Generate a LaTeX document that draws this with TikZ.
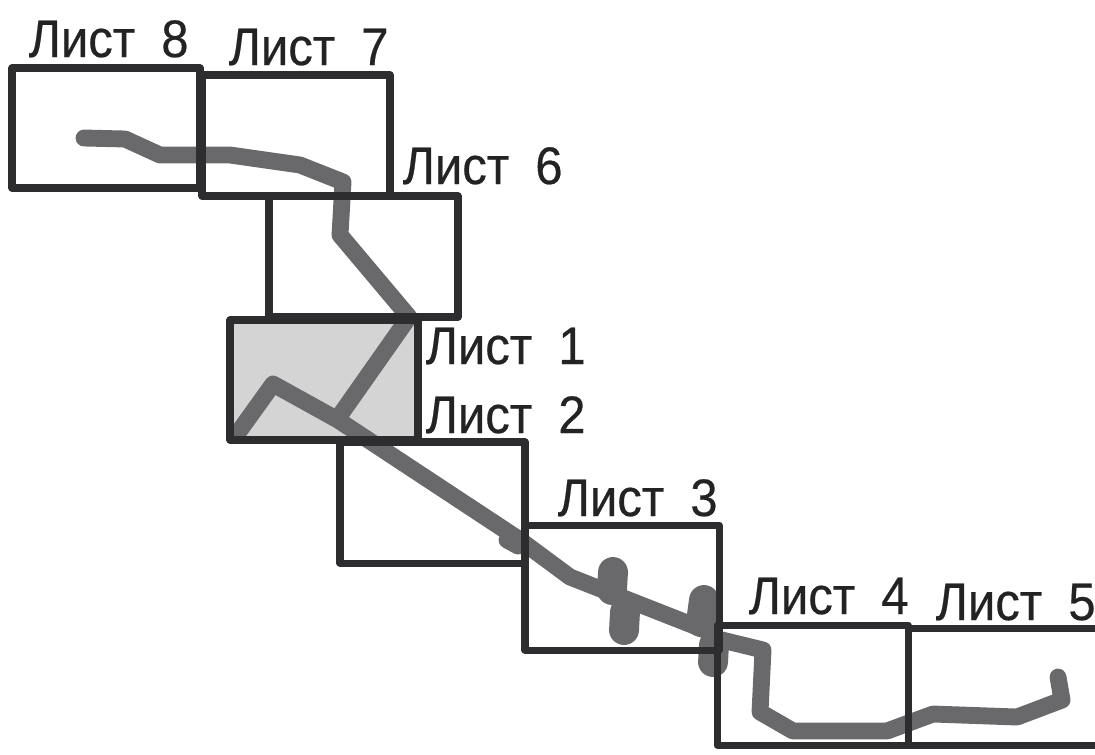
\documentclass[tikz,border=0pt]{standalone}
\usepackage{fontspec}
\setmainfont[FakeStretch=0.93,FakeBold=0.4]{Liberation Sans}
\newcommand{\sheetname}[1]{Лист\hspace{7.4pt}#1}
\tikzset{
	sheet/.style={draw=sheetcolor,line width=2pt,line join=round},
	route/.style={draw=routecolor,line width=4.8pt,line cap=round,line join=round},
	routethick/.style={route,line width=8.5pt},
	sheetlabel/.style={anchor=base west,inner sep=0pt,text=labelcolor,font=\fontsize{15}{17}\selectfont}
}
\begin{document}
\begin{tikzpicture}[x=0.01cm,y=-0.01cm]
	\definecolor{sheetcolor}{RGB}{45,45,48}
	\definecolor{routecolor}{RGB}{105,105,108}
	\definecolor{labelcolor}{RGB}{35,35,35}
	\definecolor{greycolor}{RGB}{212,212,212}
	\useasboundingbox (0,0) rectangle (1095,754);

	\fill[greycolor] (230,320) rectangle (418,440);

	% route
	\draw[route] (84,138) -- (125,139) -- (160,155) -- (230,155) -- (300,165) -- (343,182) -- (340,235) -- (409,317) -- (338,418);
	\draw[route] (240,430) -- (273,384) -- (338,420) -- (520,540) -- (570,577) -- (710,632);
	\draw[route] (722,640) -- (763,650) -- (760,712) -- (793,731) -- (887,731) -- (933,714) -- (1017,717) -- (1062,700) -- (1058,677);
	\draw[routethick] (613,572) -- (612,590);
	\draw[routethick] (625,612) -- (624,630);
	\draw[routethick] (704,600) -- (701,622);
	\draw[routethick] (714,645) -- (713,662);
	\draw[route] (507,540) -- (518,546);

	% sheets
	\draw[sheet] (12,68) rectangle (200,188);
	\draw[sheet] (202,75) rectangle (390,196);
	\draw[sheet] (269,196) rectangle (458,317);
	\draw[sheet] (230,320) rectangle (418,440);
	\draw[sheet] (340,442) rectangle (525,563);
	\draw[sheet] (525,525) rectangle (719,650);
	\draw[sheet] (717,625) rectangle (908,745);
	\draw[sheet] (908,628) -- (1095,628);
	\draw[sheet] (908,745) -- (1095,745);

	\node[sheetlabel] (label8) at (28,57) {\sheetname{8}};
	\node[sheetlabel] (label7) at (228,65) {\sheetname{7}};
	\node[sheetlabel] (label6) at (402,184) {\sheetname{6}};
	\node[sheetlabel] (label1) at (425,364) {\sheetname{1}};
	\node[sheetlabel] (label2) at (425,433) {\sheetname{2}};
	\node[sheetlabel] (label3) at (557,516) {\sheetname{3}};
	\node[sheetlabel] (label4) at (748,614) {\sheetname{4}};
	\node[sheetlabel] (label5) at (935,620) {\sheetname{5}};
\end{tikzpicture}
\end{document}
